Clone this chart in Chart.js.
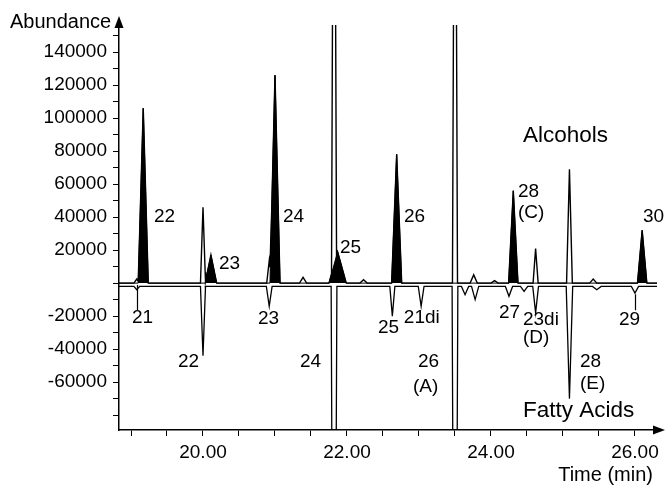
<!DOCTYPE html>
<html>
<head>
<meta charset="utf-8">
<script src="https://cdn.jsdelivr.net/npm/chart.js@4.4.0/dist/chart.umd.min.js"></script>
<style>
  html, body { margin: 0; padding: 0; background: #fff; }
  #wrap { width: 665px; height: 485px; position: relative; }
</style>
</head>
<body>
<div id="wrap"><canvas id="chart"></canvas></div>
<script>
// Alcohol peaks of the upper trace (filled): retention time (min), abundance, half base width (min)
const alcoholTimes   = [19.17, 20.11, 21.00, 21.87, 22.69, 24.31, 26.10];
const alcoholHeights = [106000, 17000, 126000, 19000, 78000, 56000, 32000];
const alcoholWidths  = [0.07, 0.08, 0.07, 0.12, 0.07, 0.065, 0.065];

// Remaining peaks of the upper trace (outline only); the two largest run off scale
const otherTimes   = [19.08, 20.00, 20.92, 21.39, 21.82, 22.23, 23.50, 23.76, 24.05, 24.62, 25.09, 25.42];
const otherHeights = [2500, 46000, 13500, 3500, 400000, 2000, 400000, 5000, 1500, 21000, 69000, 2500];
const otherWidths  = [0.04, 0.035, 0.035, 0.05, 0.035, 0.05, 0.035, 0.05, 0.05, 0.035, 0.04, 0.05];

// Fatty acid trace, plotted downward (negative abundance)
const faBaseline = -2000;
const faTimes  = [19.08, 20.00, 20.92, 21.82, 22.63, 23.03, 23.50, 23.64, 23.78, 24.25, 24.46, 24.62, 25.09, 25.47, 26.00];
const faValues = [-4000, -44000, -14000, -400000, -20000, -14000, -400000, -7000, -10000, -8000, -5000, -18000, -70000, -4000, -6000];
const faWidths = [0.04, 0.035, 0.04, 0.04, 0.035, 0.04, 0.04, 0.05, 0.05, 0.05, 0.05, 0.04, 0.045, 0.06, 0.05];

// Axis ranges and ticks
const timeMin = 18.8333, timeMax = 26.306;
const abundMin = -89000, abundMax = 156400;
const xTickValues = [19.0, 19.5, 20.0, 20.5, 21.0, 21.5, 22.0, 22.5, 23.0, 23.5, 24.0, 24.5, 25.0, 25.5, 26.0];
const xTickLabels = [20.0, 22.0, 24.0, 26.0];
const yTickValues = [-80000, -70000, -60000, -50000, -40000, -30000, -20000, -10000, 0, 10000, 20000, 30000,
                     40000, 50000, 60000, 70000, 80000, 90000, 100000, 110000, 120000, 130000, 140000, 150000];
const yTickLabels = [-60000, -40000, -20000, 20000, 40000, 60000, 80000, 100000, 120000, 140000];

// Peak labels: text, anchor time, anchor abundance (left edge, vertical middle)
const upperLabels = [
  ['22', 19.319, 40000], ['23', 20.222, 11500], ['24', 21.111, 40000], ['25', 21.903, 21200],
  ['26', 22.792, 40000], ['28', 24.375, 55100], ['(C)', 24.375, 42400], ['30', 26.111, 40000]
];
const lowerLabels = [
  ['21', 19.014, -21200], ['22', 19.653, -47900], ['23', 20.764, -21800], ['24', 21.347, -47900],
  ['25', 22.430, -27300], ['21di', 22.790, -21200], ['26', 22.986, -47900], ['(A)', 22.917, -63000],
  ['27', 24.111, -18200], ['23di', 24.444, -22400], ['(D)', 24.444, -33300],
  ['28', 25.236, -47900], ['(E)', 25.236, -61200], ['29', 25.778, -22400]
];
// Leader lines from a small peak down to its label: time, from, to
const leaders = [[19.08, -1200, -16400], [26.00, -6700, -16400]];

// Piecewise-linear trace: each peak is a triangle on the baseline, evaluated at every vertex
function buildTrace(times, values, widths, base) {
  const xs = new Set([timeMin, timeMax]);
  times.forEach((t, i) => { xs.add(t - widths[i]); xs.add(t); xs.add(t + widths[i]); });
  return [...xs].filter(v => v >= timeMin && v <= timeMax).sort((a, b) => a - b).map(xv => {
    let yv = base;
    times.forEach((t, i) => {
      const f = 1 - Math.abs(xv - t) / widths[i];
      if (f > 0) yv += (values[i] - base) * f;
    });
    return { x: xv, y: yv };
  });
}

const upperTrace = buildTrace(
  alcoholTimes.concat(otherTimes), alcoholHeights.concat(otherHeights), alcoholWidths.concat(otherWidths), 0);
const alcoholFill = buildTrace(alcoholTimes, alcoholHeights, alcoholWidths, 0);
const faTrace = buildTrace(faTimes, faValues, faWidths, faBaseline);

const FONT = '"Liberation Sans", Arial, Helvetica, sans-serif';

const decorations = {
  id: 'decorations',
  afterDraw(chart) {
    const { ctx, chartArea: a, scales: { x, y } } = chart;
    ctx.save();
    ctx.fillStyle = '#000';
    ctx.strokeStyle = '#000';
    ctx.lineWidth = 1.5;

    // axis extensions with arrowheads
    ctx.beginPath();
    ctx.moveTo(a.left, a.top); ctx.lineTo(a.left, 26);
    ctx.moveTo(a.right, a.bottom); ctx.lineTo(656, a.bottom);
    ctx.stroke();
    ctx.beginPath();
    ctx.moveTo(a.left, 16); ctx.lineTo(a.left - 4.5, 28); ctx.lineTo(a.left + 4.5, 28); ctx.closePath();
    ctx.fill();
    ctx.beginPath();
    ctx.moveTo(665, a.bottom); ctx.lineTo(653, a.bottom - 4.5); ctx.lineTo(653, a.bottom + 4.5); ctx.closePath();
    ctx.fill();

    // leader lines
    ctx.lineWidth = 1.2;
    ctx.beginPath();
    leaders.forEach(([t, v0, v1]) => {
      const px = Math.round(x.getPixelForValue(t)) + 0.5;
      ctx.moveTo(px, y.getPixelForValue(v0));
      ctx.lineTo(px, y.getPixelForValue(v1));
    });
    ctx.stroke();

    // peak labels
    ctx.font = '19px ' + FONT;
    ctx.textAlign = 'left';
    ctx.textBaseline = 'middle';
    upperLabels.concat(lowerLabels).forEach(([txt, t, v]) => {
      ctx.fillText(txt, x.getPixelForValue(t), y.getPixelForValue(v));
    });

    // trace names
    ctx.font = '22.5px ' + FONT;
    ctx.textBaseline = 'alphabetic';
    ctx.fillText('Alcohols', 523, 142);
    ctx.fillText('Fatty Acids', 523, 417);

    // axis titles
    ctx.font = '20px ' + FONT;
    ctx.fillText('Abundance', 10, 28);
    ctx.textAlign = 'right';
    ctx.fillText('Time (min)', 653, 481);
    ctx.restore();
  }
};

new Chart(document.getElementById('chart'), {
  type: 'line',
  data: {
    datasets: [
      {
        label: 'Alcohols',
        data: upperTrace,
        borderColor: '#000',
        borderWidth: 1.4,
        pointRadius: 0,
        fill: false,
        tension: 0
      },
      {
        label: 'Alcohol peaks',
        data: alcoholFill,
        borderColor: '#000',
        borderWidth: 1,
        backgroundColor: '#000',
        pointRadius: 0,
        fill: 'origin',
        tension: 0
      },
      {
        label: 'Fatty Acids',
        data: faTrace,
        borderColor: '#000',
        borderWidth: 1.3,
        pointRadius: 0,
        fill: false,
        tension: 0
      }
    ]
  },
  options: {
    responsive: true,
    maintainAspectRatio: false,
    animation: false,
    events: [],
    layout: { padding: { top: 25, right: 8, left: 0, bottom: 0 } },
    plugins: { legend: { display: false }, tooltip: { enabled: false }, title: { display: false } },
    scales: {
      x: {
        type: 'linear',
        min: timeMin,
        max: timeMax,
        afterBuildTicks: s => { s.ticks = xTickValues.map(v => ({ value: v })); },
        afterFit: s => { s.height = 55; },
        grid: { drawOnChartArea: false, drawTicks: true, tickLength: 6, color: '#000', lineWidth: 1 },
        border: { display: true, color: '#000', width: 1.5 },
        ticks: {
          autoSkip: false,
          maxRotation: 0,
          padding: 5,
          color: '#000',
          font: { family: FONT, size: 19 },
          callback: v => xTickLabels.includes(v) ? v.toFixed(2) : ''
        }
      },
      y: {
        type: 'linear',
        min: abundMin,
        max: abundMax,
        afterBuildTicks: s => { s.ticks = yTickValues.map(v => ({ value: v })); },
        afterFit: s => { s.width = 119; },
        grid: { drawOnChartArea: false, drawTicks: true, tickLength: 6, color: '#000', lineWidth: 1 },
        border: { display: true, color: '#000', width: 1.5 },
        ticks: {
          autoSkip: false,
          padding: 6,
          color: '#000',
          font: { family: FONT, size: 19 },
          callback: v => yTickLabels.includes(v) ? String(v) : ''
        }
      }
    }
  },
  plugins: [decorations]
});
</script>
</body>
</html>
